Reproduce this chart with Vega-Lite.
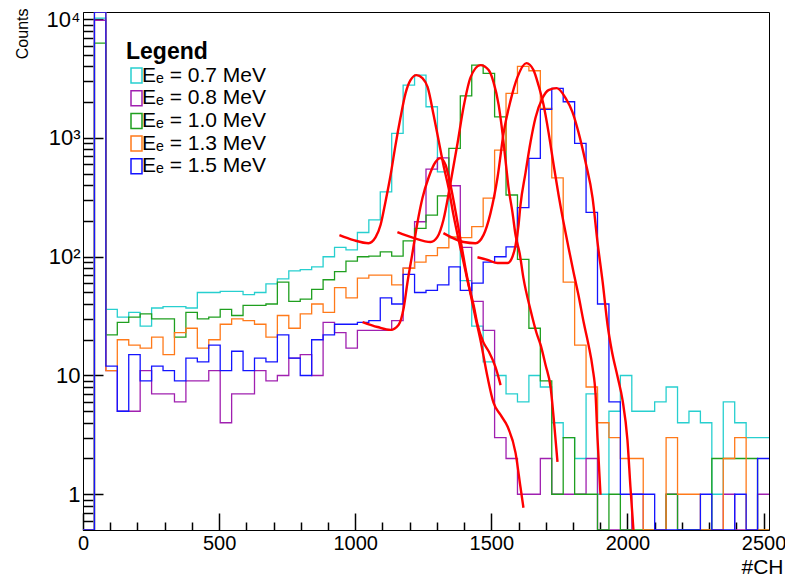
{
  "$schema": "https://vega.github.io/schema/vega-lite/v6.json",
  "width": 686,
  "height": 518,
  "autosize": {"type": "none"},
  "padding": {"left": 83, "top": 12, "right": 16, "bottom": 46},
  "background": "white",
  "config": {
    "font": "Liberation Sans",
    "view": {"stroke": "#000000", "strokeWidth": 1}
  },
  "datasets": {
    "hist": [
      {"s":"Eₑ = 0.7 MeV","ch":0,"n":0},{"s":"Eₑ = 0.7 MeV","ch":42,"n":10200},{"s":"Eₑ = 0.7 MeV","ch":84,"n":36},{"s":"Eₑ = 0.7 MeV","ch":126,"n":31},{"s":"Eₑ = 0.7 MeV","ch":168,"n":34},{"s":"Eₑ = 0.7 MeV","ch":210,"n":26},{"s":"Eₑ = 0.7 MeV","ch":252,"n":37},{"s":"Eₑ = 0.7 MeV","ch":294,"n":38},{"s":"Eₑ = 0.7 MeV","ch":336,"n":38},{"s":"Eₑ = 0.7 MeV","ch":378,"n":37},
      {"s":"Eₑ = 0.7 MeV","ch":420,"n":50},{"s":"Eₑ = 0.7 MeV","ch":462,"n":50},{"s":"Eₑ = 0.7 MeV","ch":504,"n":51},{"s":"Eₑ = 0.7 MeV","ch":546,"n":51},{"s":"Eₑ = 0.7 MeV","ch":588,"n":48},{"s":"Eₑ = 0.7 MeV","ch":630,"n":50},{"s":"Eₑ = 0.7 MeV","ch":672,"n":59},{"s":"Eₑ = 0.7 MeV","ch":714,"n":65},{"s":"Eₑ = 0.7 MeV","ch":756,"n":76},{"s":"Eₑ = 0.7 MeV","ch":798,"n":78},
      {"s":"Eₑ = 0.7 MeV","ch":840,"n":82},{"s":"Eₑ = 0.7 MeV","ch":882,"n":100},{"s":"Eₑ = 0.7 MeV","ch":924,"n":120},{"s":"Eₑ = 0.7 MeV","ch":966,"n":114},{"s":"Eₑ = 0.7 MeV","ch":1008,"n":160},{"s":"Eₑ = 0.7 MeV","ch":1050,"n":204},{"s":"Eₑ = 0.7 MeV","ch":1092,"n":352},{"s":"Eₑ = 0.7 MeV","ch":1134,"n":1093},{"s":"Eₑ = 0.7 MeV","ch":1176,"n":2790},{"s":"Eₑ = 0.7 MeV","ch":1218,"n":3380},
      {"s":"Eₑ = 0.7 MeV","ch":1260,"n":1832},{"s":"Eₑ = 0.7 MeV","ch":1302,"n":519},{"s":"Eₑ = 0.7 MeV","ch":1344,"n":144},{"s":"Eₑ = 0.7 MeV","ch":1386,"n":63},{"s":"Eₑ = 0.7 MeV","ch":1428,"n":26},{"s":"Eₑ = 0.7 MeV","ch":1470,"n":13},{"s":"Eₑ = 0.7 MeV","ch":1512,"n":10},{"s":"Eₑ = 0.7 MeV","ch":1554,"n":7},{"s":"Eₑ = 0.7 MeV","ch":1596,"n":6},{"s":"Eₑ = 0.7 MeV","ch":1638,"n":10},
      {"s":"Eₑ = 0.7 MeV","ch":1680,"n":8},{"s":"Eₑ = 0.7 MeV","ch":1722,"n":4},{"s":"Eₑ = 0.7 MeV","ch":1764,"n":3},{"s":"Eₑ = 0.7 MeV","ch":1806,"n":2},{"s":"Eₑ = 0.7 MeV","ch":1848,"n":7},{"s":"Eₑ = 0.7 MeV","ch":1890,"n":1},{"s":"Eₑ = 0.7 MeV","ch":1932,"n":5},{"s":"Eₑ = 0.7 MeV","ch":1974,"n":10},{"s":"Eₑ = 0.7 MeV","ch":2016,"n":5},{"s":"Eₑ = 0.7 MeV","ch":2058,"n":5},
      {"s":"Eₑ = 0.7 MeV","ch":2100,"n":6},{"s":"Eₑ = 0.7 MeV","ch":2142,"n":8},{"s":"Eₑ = 0.7 MeV","ch":2184,"n":4},{"s":"Eₑ = 0.7 MeV","ch":2226,"n":5},{"s":"Eₑ = 0.7 MeV","ch":2268,"n":4},{"s":"Eₑ = 0.7 MeV","ch":2310,"n":1},{"s":"Eₑ = 0.7 MeV","ch":2352,"n":6},{"s":"Eₑ = 0.7 MeV","ch":2394,"n":4},{"s":"Eₑ = 0.7 MeV","ch":2436,"n":3},{"s":"Eₑ = 0.7 MeV","ch":2478,"n":3},{"s":"Eₑ = 0.7 MeV","ch":2520,"n":3},

      {"s":"Eₑ = 0.8 MeV","ch":0,"n":0},{"s":"Eₑ = 0.8 MeV","ch":42,"n":9800},{"s":"Eₑ = 0.8 MeV","ch":84,"n":11},{"s":"Eₑ = 0.8 MeV","ch":126,"n":5},{"s":"Eₑ = 0.8 MeV","ch":168,"n":5},{"s":"Eₑ = 0.8 MeV","ch":210,"n":11},{"s":"Eₑ = 0.8 MeV","ch":252,"n":7},{"s":"Eₑ = 0.8 MeV","ch":294,"n":7},{"s":"Eₑ = 0.8 MeV","ch":336,"n":6},{"s":"Eₑ = 0.8 MeV","ch":378,"n":9},
      {"s":"Eₑ = 0.8 MeV","ch":420,"n":9},{"s":"Eₑ = 0.8 MeV","ch":462,"n":11},{"s":"Eₑ = 0.8 MeV","ch":504,"n":4},{"s":"Eₑ = 0.8 MeV","ch":546,"n":7},{"s":"Eₑ = 0.8 MeV","ch":588,"n":7},{"s":"Eₑ = 0.8 MeV","ch":630,"n":11},{"s":"Eₑ = 0.8 MeV","ch":672,"n":9},{"s":"Eₑ = 0.8 MeV","ch":714,"n":10},{"s":"Eₑ = 0.8 MeV","ch":756,"n":14},{"s":"Eₑ = 0.8 MeV","ch":798,"n":15},
      {"s":"Eₑ = 0.8 MeV","ch":840,"n":10},{"s":"Eₑ = 0.8 MeV","ch":882,"n":28},{"s":"Eₑ = 0.8 MeV","ch":924,"n":23},{"s":"Eₑ = 0.8 MeV","ch":966,"n":17},{"s":"Eₑ = 0.8 MeV","ch":1008,"n":24},{"s":"Eₑ = 0.8 MeV","ch":1050,"n":24},{"s":"Eₑ = 0.8 MeV","ch":1092,"n":24},{"s":"Eₑ = 0.8 MeV","ch":1134,"n":29},{"s":"Eₑ = 0.8 MeV","ch":1176,"n":80},{"s":"Eₑ = 0.8 MeV","ch":1218,"n":197},
      {"s":"Eₑ = 0.8 MeV","ch":1260,"n":547},{"s":"Eₑ = 0.8 MeV","ch":1302,"n":681},{"s":"Eₑ = 0.8 MeV","ch":1344,"n":396},{"s":"Eₑ = 0.8 MeV","ch":1386,"n":120},{"s":"Eₑ = 0.8 MeV","ch":1428,"n":42},{"s":"Eₑ = 0.8 MeV","ch":1470,"n":24},{"s":"Eₑ = 0.8 MeV","ch":1512,"n":3},{"s":"Eₑ = 0.8 MeV","ch":1554,"n":2},{"s":"Eₑ = 0.8 MeV","ch":1596,"n":1},{"s":"Eₑ = 0.8 MeV","ch":1638,"n":1},
      {"s":"Eₑ = 0.8 MeV","ch":1680,"n":2},{"s":"Eₑ = 0.8 MeV","ch":1722,"n":1},{"s":"Eₑ = 0.8 MeV","ch":1764,"n":1},{"s":"Eₑ = 0.8 MeV","ch":1806,"n":1},{"s":"Eₑ = 0.8 MeV","ch":1848,"n":2},{"s":"Eₑ = 0.8 MeV","ch":1890,"n":0},{"s":"Eₑ = 0.8 MeV","ch":1932,"n":0},{"s":"Eₑ = 0.8 MeV","ch":1974,"n":0},{"s":"Eₑ = 0.8 MeV","ch":2016,"n":1},{"s":"Eₑ = 0.8 MeV","ch":2058,"n":0},
      {"s":"Eₑ = 0.8 MeV","ch":2100,"n":0},{"s":"Eₑ = 0.8 MeV","ch":2142,"n":1},{"s":"Eₑ = 0.8 MeV","ch":2184,"n":0},{"s":"Eₑ = 0.8 MeV","ch":2226,"n":0},{"s":"Eₑ = 0.8 MeV","ch":2268,"n":0},{"s":"Eₑ = 0.8 MeV","ch":2310,"n":0},{"s":"Eₑ = 0.8 MeV","ch":2352,"n":1},{"s":"Eₑ = 0.8 MeV","ch":2394,"n":0},{"s":"Eₑ = 0.8 MeV","ch":2436,"n":0},{"s":"Eₑ = 0.8 MeV","ch":2478,"n":1},{"s":"Eₑ = 0.8 MeV","ch":2520,"n":1},

      {"s":"Eₑ = 1.0 MeV","ch":0,"n":0},{"s":"Eₑ = 1.0 MeV","ch":42,"n":6300},{"s":"Eₑ = 1.0 MeV","ch":84,"n":22},{"s":"Eₑ = 1.0 MeV","ch":126,"n":28},{"s":"Eₑ = 1.0 MeV","ch":168,"n":31},{"s":"Eₑ = 1.0 MeV","ch":210,"n":33},{"s":"Eₑ = 1.0 MeV","ch":252,"n":30},{"s":"Eₑ = 1.0 MeV","ch":294,"n":30},{"s":"Eₑ = 1.0 MeV","ch":336,"n":21},{"s":"Eₑ = 1.0 MeV","ch":378,"n":34},
      {"s":"Eₑ = 1.0 MeV","ch":420,"n":30},{"s":"Eₑ = 1.0 MeV","ch":462,"n":31},{"s":"Eₑ = 1.0 MeV","ch":504,"n":36},{"s":"Eₑ = 1.0 MeV","ch":546,"n":32},{"s":"Eₑ = 1.0 MeV","ch":588,"n":39},{"s":"Eₑ = 1.0 MeV","ch":630,"n":39},{"s":"Eₑ = 1.0 MeV","ch":672,"n":40},{"s":"Eₑ = 1.0 MeV","ch":714,"n":61},{"s":"Eₑ = 1.0 MeV","ch":756,"n":42},{"s":"Eₑ = 1.0 MeV","ch":798,"n":44},
      {"s":"Eₑ = 1.0 MeV","ch":840,"n":53},{"s":"Eₑ = 1.0 MeV","ch":882,"n":64},{"s":"Eₑ = 1.0 MeV","ch":924,"n":75},{"s":"Eₑ = 1.0 MeV","ch":966,"n":92},{"s":"Eₑ = 1.0 MeV","ch":1008,"n":100},{"s":"Eₑ = 1.0 MeV","ch":1050,"n":101},{"s":"Eₑ = 1.0 MeV","ch":1092,"n":110},{"s":"Eₑ = 1.0 MeV","ch":1134,"n":101},{"s":"Eₑ = 1.0 MeV","ch":1176,"n":136},{"s":"Eₑ = 1.0 MeV","ch":1218,"n":173},
      {"s":"Eₑ = 1.0 MeV","ch":1260,"n":224},{"s":"Eₑ = 1.0 MeV","ch":1302,"n":326},{"s":"Eₑ = 1.0 MeV","ch":1344,"n":817},{"s":"Eₑ = 1.0 MeV","ch":1386,"n":2265},{"s":"Eₑ = 1.0 MeV","ch":1428,"n":4110},{"s":"Eₑ = 1.0 MeV","ch":1470,"n":3500},{"s":"Eₑ = 1.0 MeV","ch":1512,"n":1507},{"s":"Eₑ = 1.0 MeV","ch":1554,"n":331},{"s":"Eₑ = 1.0 MeV","ch":1596,"n":95},{"s":"Eₑ = 1.0 MeV","ch":1638,"n":25},
      {"s":"Eₑ = 1.0 MeV","ch":1680,"n":9},{"s":"Eₑ = 1.0 MeV","ch":1722,"n":1},{"s":"Eₑ = 1.0 MeV","ch":1764,"n":3},{"s":"Eₑ = 1.0 MeV","ch":1806,"n":1},{"s":"Eₑ = 1.0 MeV","ch":1848,"n":1},{"s":"Eₑ = 1.0 MeV","ch":1890,"n":0},{"s":"Eₑ = 1.0 MeV","ch":1932,"n":1},{"s":"Eₑ = 1.0 MeV","ch":1974,"n":0},{"s":"Eₑ = 1.0 MeV","ch":2016,"n":0},{"s":"Eₑ = 1.0 MeV","ch":2058,"n":0},
      {"s":"Eₑ = 1.0 MeV","ch":2100,"n":0},{"s":"Eₑ = 1.0 MeV","ch":2142,"n":1},{"s":"Eₑ = 1.0 MeV","ch":2184,"n":0},{"s":"Eₑ = 1.0 MeV","ch":2226,"n":0},{"s":"Eₑ = 1.0 MeV","ch":2268,"n":0},{"s":"Eₑ = 1.0 MeV","ch":2310,"n":2},{"s":"Eₑ = 1.0 MeV","ch":2352,"n":2},{"s":"Eₑ = 1.0 MeV","ch":2394,"n":2},{"s":"Eₑ = 1.0 MeV","ch":2436,"n":2},{"s":"Eₑ = 1.0 MeV","ch":2478,"n":0},{"s":"Eₑ = 1.0 MeV","ch":2520,"n":0},

      {"s":"Eₑ = 1.3 MeV","ch":0,"n":0},{"s":"Eₑ = 1.3 MeV","ch":42,"n":14000},{"s":"Eₑ = 1.3 MeV","ch":84,"n":11},{"s":"Eₑ = 1.3 MeV","ch":126,"n":20},{"s":"Eₑ = 1.3 MeV","ch":168,"n":18},{"s":"Eₑ = 1.3 MeV","ch":210,"n":17},{"s":"Eₑ = 1.3 MeV","ch":252,"n":21},{"s":"Eₑ = 1.3 MeV","ch":294,"n":15},{"s":"Eₑ = 1.3 MeV","ch":336,"n":23},{"s":"Eₑ = 1.3 MeV","ch":378,"n":25},
      {"s":"Eₑ = 1.3 MeV","ch":420,"n":17},{"s":"Eₑ = 1.3 MeV","ch":462,"n":20},{"s":"Eₑ = 1.3 MeV","ch":504,"n":27},{"s":"Eₑ = 1.3 MeV","ch":546,"n":30},{"s":"Eₑ = 1.3 MeV","ch":588,"n":29},{"s":"Eₑ = 1.3 MeV","ch":630,"n":27},{"s":"Eₑ = 1.3 MeV","ch":672,"n":21},{"s":"Eₑ = 1.3 MeV","ch":714,"n":32},{"s":"Eₑ = 1.3 MeV","ch":756,"n":25},{"s":"Eₑ = 1.3 MeV","ch":798,"n":33},
      {"s":"Eₑ = 1.3 MeV","ch":840,"n":40},{"s":"Eₑ = 1.3 MeV","ch":882,"n":34},{"s":"Eₑ = 1.3 MeV","ch":924,"n":55},{"s":"Eₑ = 1.3 MeV","ch":966,"n":45},{"s":"Eₑ = 1.3 MeV","ch":1008,"n":66},{"s":"Eₑ = 1.3 MeV","ch":1050,"n":70},{"s":"Eₑ = 1.3 MeV","ch":1092,"n":70},{"s":"Eₑ = 1.3 MeV","ch":1134,"n":58},{"s":"Eₑ = 1.3 MeV","ch":1176,"n":80},{"s":"Eₑ = 1.3 MeV","ch":1218,"n":90},
      {"s":"Eₑ = 1.3 MeV","ch":1260,"n":102},{"s":"Eₑ = 1.3 MeV","ch":1302,"n":119},{"s":"Eₑ = 1.3 MeV","ch":1344,"n":147},{"s":"Eₑ = 1.3 MeV","ch":1386,"n":145},{"s":"Eₑ = 1.3 MeV","ch":1428,"n":179},{"s":"Eₑ = 1.3 MeV","ch":1470,"n":312},{"s":"Eₑ = 1.3 MeV","ch":1512,"n":791},{"s":"Eₑ = 1.3 MeV","ch":1554,"n":2372},{"s":"Eₑ = 1.3 MeV","ch":1596,"n":4000},{"s":"Eₑ = 1.3 MeV","ch":1638,"n":3680},
      {"s":"Eₑ = 1.3 MeV","ch":1680,"n":1775},{"s":"Eₑ = 1.3 MeV","ch":1722,"n":462},{"s":"Eₑ = 1.3 MeV","ch":1764,"n":61},{"s":"Eₑ = 1.3 MeV","ch":1806,"n":18},{"s":"Eₑ = 1.3 MeV","ch":1848,"n":8},{"s":"Eₑ = 1.3 MeV","ch":1890,"n":4},{"s":"Eₑ = 1.3 MeV","ch":1932,"n":3},{"s":"Eₑ = 1.3 MeV","ch":1974,"n":2},{"s":"Eₑ = 1.3 MeV","ch":2016,"n":2},{"s":"Eₑ = 1.3 MeV","ch":2058,"n":0},
      {"s":"Eₑ = 1.3 MeV","ch":2100,"n":0},{"s":"Eₑ = 1.3 MeV","ch":2142,"n":3},{"s":"Eₑ = 1.3 MeV","ch":2184,"n":1},{"s":"Eₑ = 1.3 MeV","ch":2226,"n":1},{"s":"Eₑ = 1.3 MeV","ch":2268,"n":0},{"s":"Eₑ = 1.3 MeV","ch":2310,"n":0},{"s":"Eₑ = 1.3 MeV","ch":2352,"n":2},{"s":"Eₑ = 1.3 MeV","ch":2394,"n":3},{"s":"Eₑ = 1.3 MeV","ch":2436,"n":0},{"s":"Eₑ = 1.3 MeV","ch":2478,"n":0},{"s":"Eₑ = 1.3 MeV","ch":2520,"n":0},

      {"s":"Eₑ = 1.5 MeV","ch":0,"n":0},{"s":"Eₑ = 1.5 MeV","ch":42,"n":15000},{"s":"Eₑ = 1.5 MeV","ch":84,"n":12},{"s":"Eₑ = 1.5 MeV","ch":126,"n":5},{"s":"Eₑ = 1.5 MeV","ch":168,"n":15},{"s":"Eₑ = 1.5 MeV","ch":210,"n":9},{"s":"Eₑ = 1.5 MeV","ch":252,"n":12},{"s":"Eₑ = 1.5 MeV","ch":294,"n":11},{"s":"Eₑ = 1.5 MeV","ch":336,"n":9},{"s":"Eₑ = 1.5 MeV","ch":378,"n":14},
      {"s":"Eₑ = 1.5 MeV","ch":420,"n":13},{"s":"Eₑ = 1.5 MeV","ch":462,"n":18},{"s":"Eₑ = 1.5 MeV","ch":504,"n":11},{"s":"Eₑ = 1.5 MeV","ch":546,"n":16},{"s":"Eₑ = 1.5 MeV","ch":588,"n":11},{"s":"Eₑ = 1.5 MeV","ch":630,"n":14},{"s":"Eₑ = 1.5 MeV","ch":672,"n":13},{"s":"Eₑ = 1.5 MeV","ch":714,"n":22},{"s":"Eₑ = 1.5 MeV","ch":756,"n":14},{"s":"Eₑ = 1.5 MeV","ch":798,"n":10},
      {"s":"Eₑ = 1.5 MeV","ch":840,"n":20},{"s":"Eₑ = 1.5 MeV","ch":882,"n":22},{"s":"Eₑ = 1.5 MeV","ch":924,"n":27},{"s":"Eₑ = 1.5 MeV","ch":966,"n":27},{"s":"Eₑ = 1.5 MeV","ch":1008,"n":28},{"s":"Eₑ = 1.5 MeV","ch":1050,"n":29},{"s":"Eₑ = 1.5 MeV","ch":1092,"n":45},{"s":"Eₑ = 1.5 MeV","ch":1134,"n":40},{"s":"Eₑ = 1.5 MeV","ch":1176,"n":71},{"s":"Eₑ = 1.5 MeV","ch":1218,"n":50},
      {"s":"Eₑ = 1.5 MeV","ch":1260,"n":52},{"s":"Eₑ = 1.5 MeV","ch":1302,"n":58},{"s":"Eₑ = 1.5 MeV","ch":1344,"n":82},{"s":"Eₑ = 1.5 MeV","ch":1386,"n":52},{"s":"Eₑ = 1.5 MeV","ch":1428,"n":60},{"s":"Eₑ = 1.5 MeV","ch":1470,"n":90},{"s":"Eₑ = 1.5 MeV","ch":1512,"n":100},{"s":"Eₑ = 1.5 MeV","ch":1554,"n":121},{"s":"Eₑ = 1.5 MeV","ch":1596,"n":259},{"s":"Eₑ = 1.5 MeV","ch":1638,"n":673},
      {"s":"Eₑ = 1.5 MeV","ch":1680,"n":1742},{"s":"Eₑ = 1.5 MeV","ch":1722,"n":2617},{"s":"Eₑ = 1.5 MeV","ch":1764,"n":2018},{"s":"Eₑ = 1.5 MeV","ch":1806,"n":901},{"s":"Eₑ = 1.5 MeV","ch":1848,"n":236},{"s":"Eₑ = 1.5 MeV","ch":1890,"n":40},{"s":"Eₑ = 1.5 MeV","ch":1932,"n":6},{"s":"Eₑ = 1.5 MeV","ch":1974,"n":1},{"s":"Eₑ = 1.5 MeV","ch":2016,"n":1},{"s":"Eₑ = 1.5 MeV","ch":2058,"n":1},
      {"s":"Eₑ = 1.5 MeV","ch":2100,"n":0},{"s":"Eₑ = 1.5 MeV","ch":2142,"n":0},{"s":"Eₑ = 1.5 MeV","ch":2184,"n":0},{"s":"Eₑ = 1.5 MeV","ch":2226,"n":0},{"s":"Eₑ = 1.5 MeV","ch":2268,"n":1},{"s":"Eₑ = 1.5 MeV","ch":2310,"n":0},{"s":"Eₑ = 1.5 MeV","ch":2352,"n":0},{"s":"Eₑ = 1.5 MeV","ch":2394,"n":1},{"s":"Eₑ = 1.5 MeV","ch":2436,"n":0},{"s":"Eₑ = 1.5 MeV","ch":2478,"n":2},{"s":"Eₑ = 1.5 MeV","ch":2520,"n":2}
    ],
    "fits": [
      {"c":"A","ch":942,"n":152},{"c":"A","ch":994,"n":138},{"c":"A","ch":1049,"n":130},{"c":"A","ch":1075,"n":146},{"c":"A","ch":1093,"n":185},{"c":"A","ch":1111,"n":289},{"c":"A","ch":1130,"n":487},{"c":"A","ch":1148,"n":871},{"c":"A","ch":1166,"n":1471},{"c":"A","ch":1185,"n":2388},{"c":"A","ch":1203,"n":3072},{"c":"A","ch":1225,"n":3384},{"c":"A","ch":1247,"n":3193},{"c":"A","ch":1266,"n":2682},{"c":"A","ch":1288,"n":1559},{"c":"A","ch":1306,"n":960},{"c":"A","ch":1324,"n":592},{"c":"A","ch":1343,"n":379},{"c":"A","ch":1361,"n":224},{"c":"A","ch":1380,"n":138},{"c":"A","ch":1398,"n":90},{"c":"A","ch":1416,"n":58},{"c":"A","ch":1435,"n":39},{"c":"A","ch":1449,"n":27},{"c":"A","ch":1471,"n":19},{"c":"A","ch":1490,"n":16},{"c":"A","ch":1515,"n":11.8},{"c":"A","ch":1534,"n":8.3},
      {"c":"B","ch":1027,"n":28.2},{"c":"B","ch":1082,"n":25.6},{"c":"B","ch":1130,"n":24.2},{"c":"B","ch":1159,"n":26.6},{"c":"B","ch":1178,"n":37},{"c":"B","ch":1192,"n":61},{"c":"B","ch":1211,"n":110},{"c":"B","ch":1229,"n":196},{"c":"B","ch":1247,"n":312},{"c":"B","ch":1269,"n":460},{"c":"B","ch":1295,"n":627},{"c":"B","ch":1313,"n":677},{"c":"B","ch":1332,"n":592},{"c":"B","ch":1350,"n":401},{"c":"B","ch":1369,"n":238},{"c":"B","ch":1387,"n":138},{"c":"B","ch":1405,"n":80},{"c":"B","ch":1424,"n":48},{"c":"B","ch":1442,"n":30.5},{"c":"B","ch":1460,"n":19.9},{"c":"B","ch":1486,"n":9.7},{"c":"B","ch":1508,"n":5.9},{"c":"B","ch":1534,"n":4.65},{"c":"B","ch":1560,"n":3.7},{"c":"B","ch":1589,"n":2.23},{"c":"B","ch":1607,"n":1.15},{"c":"B","ch":1618,"n":0.77},
      {"c":"C","ch":1155,"n":161},{"c":"C","ch":1214,"n":144},{"c":"C","ch":1277,"n":133},{"c":"C","ch":1302,"n":147},{"c":"C","ch":1324,"n":204},{"c":"C","ch":1350,"n":417},{"c":"C","ch":1376,"n":906},{"c":"C","ch":1398,"n":1820},{"c":"C","ch":1424,"n":3254},{"c":"C","ch":1460,"n":4108},{"c":"C","ch":1490,"n":3728},{"c":"C","ch":1508,"n":2954},{"c":"C","ch":1527,"n":1892},{"c":"C","ch":1541,"n":1099},{"c":"C","ch":1552,"n":652},{"c":"C","ch":1563,"n":386},{"c":"C","ch":1578,"n":233},{"c":"C","ch":1589,"n":152},{"c":"C","ch":1604,"n":107},{"c":"C","ch":1618,"n":66},{"c":"C","ch":1644,"n":35.6},{"c":"C","ch":1666,"n":22.8},{"c":"C","ch":1681,"n":18.1},{"c":"C","ch":1699,"n":12.3},{"c":"C","ch":1718,"n":7.85},{"c":"C","ch":1729,"n":4.39},{"c":"C","ch":1743,"n":1.87},
      {"c":"D","ch":1324,"n":158},{"c":"D","ch":1398,"n":133},{"c":"D","ch":1442,"n":130},{"c":"D","ch":1471,"n":152},{"c":"D","ch":1497,"n":233},{"c":"D","ch":1523,"n":469},{"c":"D","ch":1545,"n":1099},{"c":"D","ch":1571,"n":2084},{"c":"D","ch":1596,"n":3254},{"c":"D","ch":1629,"n":4271},{"c":"D","ch":1655,"n":3728},{"c":"D","ch":1673,"n":2788},{"c":"D","ch":1692,"n":1892},{"c":"D","ch":1710,"n":1121},{"c":"D","ch":1729,"n":592},{"c":"D","ch":1747,"n":331},{"c":"D","ch":1765,"n":196},{"c":"D","ch":1784,"n":118},{"c":"D","ch":1802,"n":74},{"c":"D","ch":1820,"n":47.6},{"c":"D","ch":1839,"n":28.2},{"c":"D","ch":1857,"n":18.1},{"c":"D","ch":1872,"n":11.6},{"c":"D","ch":1883,"n":6.85},{"c":"D","ch":1890,"n":2.98},{"c":"D","ch":1901,"n":0.99},
      {"c":"E","ch":1449,"n":99},{"c":"E","ch":1486,"n":94},{"c":"E","ch":1523,"n":88.5},{"c":"E","ch":1560,"n":88.5},{"c":"E","ch":1574,"n":95.6},{"c":"E","ch":1589,"n":125},{"c":"E","ch":1600,"n":185},{"c":"E","ch":1607,"n":272},{"c":"E","ch":1626,"n":516},{"c":"E","ch":1644,"n":924},{"c":"E","ch":1662,"n":1471},{"c":"E","ch":1688,"n":2167},{"c":"E","ch":1710,"n":2531},{"c":"E","ch":1740,"n":2630},{"c":"E","ch":1773,"n":2167},{"c":"E","ch":1798,"n":1652},{"c":"E","ch":1820,"n":1121},{"c":"E","ch":1846,"n":627},{"c":"E","ch":1872,"n":312},{"c":"E","ch":1890,"n":133},{"c":"E","ch":1909,"n":61},{"c":"E","ch":1927,"n":26.6},{"c":"E","ch":1942,"n":16.4},{"c":"E","ch":1964,"n":9.7},{"c":"E","ch":1982,"n":6.2},{"c":"E","ch":2000,"n":2.86},{"c":"E","ch":2011,"n":1.15},{"c":"E","ch":2022,"n":0.5}
    ]
  },
  "encoding": {
    "x": {
      "field": "ch", "type": "quantitative",
      "scale": {"domain": [0, 2520], "nice": false, "zero": false},
      "axis": {
        "orient": "bottom",
        "values": [0, 100, 200, 300, 400, 500, 600, 700, 800, 900, 1000, 1100, 1200, 1300, 1400, 1500, 1600, 1700, 1800, 1900, 2000, 2100, 2200, 2300, 2400, 2500],
        "format": "d",
        "labelExpr": "datum.value % 500 === 0 ? datum.label : ''",
        "grid": false, "domain": true, "domainColor": "#000000", "domainWidth": 1, "ticks": true,
        "tickColor": "black", "tickWidth": 1.5,
        "tickSize": {"condition": {"test": "datum.value % 500 === 0", "value": -17}, "value": -8},
        "labelFontSize": 20, "labelColor": "#000000", "labelFont": "Liberation Sans",
        "labelPadding": 20, "labelFlush": false, "labelOverlap": false, "labelBound": false,
        "title": "#CH", "titleFontSize": 21, "titleFont": "Liberation Sans", "titleFontWeight": "normal", "titleColor": "#000000",
        "titleAlign": "right", "titleAnchor": "end", "titleX": 700, "titleY": 37, "titleBaseline": "middle"
      }
    },
    "y": {
      "field": "n", "type": "quantitative",
      "scale": {"type": "log", "domain": [0.5, 11500], "nice": false, "clamp": true},
      "axis": {
        "orient": "left",
        "values": [0.6, 0.7, 0.8, 0.9, 1, 2, 3, 4, 5, 6, 7, 8, 9, 10, 20, 30, 40, 50, 60, 70, 80, 90, 100, 200, 300, 400, 500, 600, 700, 800, 900, 1000, 2000, 3000, 4000, 5000, 6000, 7000, 8000, 9000, 10000],
        "format": "d",
        "labelExpr": "datum.value == 10000 ? '10⁴' : datum.value == 1000 ? '10³' : datum.value == 100 ? '10²' : datum.value == 10 ? '10' : datum.value == 1 ? '1' : ''",
        "grid": false, "domain": true, "domainColor": "#000000", "domainWidth": 1, "ticks": true,
        "tickColor": "black", "tickWidth": 1.5,
        "tickSize": {"condition": {"test": "datum.value == 1 || datum.value == 10 || datum.value == 100 || datum.value == 1000 || datum.value == 10000", "value": -20}, "value": -10},
        "labelFontSize": 22, "labelColor": "#000000", "labelFont": "Liberation Sans",
        "labelPadding": 23, "labelOverlap": false, "labelBound": false,
        "title": "Counts", "titleFontSize": 16, "titleFont": "Liberation Sans", "titleFontWeight": "normal", "titleColor": "#000000",
        "titleAngle": -90, "titleAlign": "right", "titleBaseline": "middle", "titleX": -61, "titleY": -4
      }
    }
  },
  "layer": [
    {
      "data": {"name": "hist"},
      "mark": {"type": "line", "interpolate": "step-after", "strokeWidth": 1.3, "clip": true, "invalid": "show"},
      "encoding": {
        "color": {
          "field": "s", "type": "nominal",
          "scale": {"domain": ["Eₑ = 0.7 MeV", "Eₑ = 0.8 MeV", "Eₑ = 1.0 MeV", "Eₑ = 1.3 MeV", "Eₑ = 1.5 MeV"], "range": ["#27cfcf", "#a020b0", "#1f9f1f", "#ff7a1a", "#1414ff"]},
          "legend": {"orient": "none", "legendX": 43, "legendY": 29, "title": "Legend", "titleFontSize": 23, "titleFontWeight": "bold", "titleFont": "Liberation Sans", "titleColor": "#000000", "titlePadding": 1, "labelFontSize": 21, "labelFont": "Liberation Sans", "labelColor": "#000000", "labelLimit": 400, "labelOffset": -5, "symbolType": "M-0.733,-1H0.733V1H-0.733Z", "symbolSize": 225, "symbolStrokeWidth": 1.5, "symbolFillColor": "transparent", "rowPadding": 0.7, "padding": 0}
        }
      }
    },
    {
      "data": {"name": "fits"},
      "mark": {"type": "line", "color": "#ff0000", "strokeWidth": 2.4, "interpolate": "monotone", "clip": true},
      "encoding": {
        "detail": {"field": "c", "type": "nominal"}
      }
    }
  ]
}
